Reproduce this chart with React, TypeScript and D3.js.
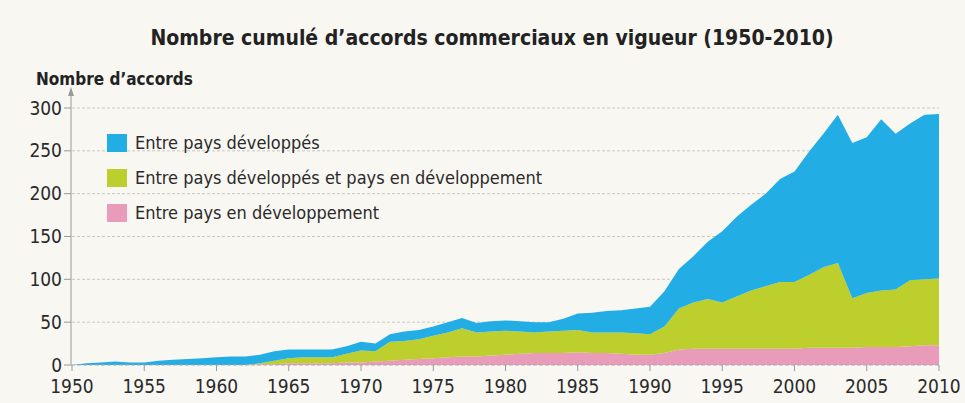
import { useEffect, useRef } from 'react';
import * as d3 from 'd3';

// Years 1950..2010
const years = d3.range(1950, 2011);

// Entre pays en développement (bottom layer)
const developing = [
  0, 0, 0, 0, 0, 0, 0, 0, 0, 0,
  0, 0, 0, 1, 1, 2, 2, 2, 2, 3,
  3, 4, 5, 6, 7, 8, 9, 10, 10, 11,
  12, 13, 14, 14, 14, 15, 14, 14, 13, 12,
  12, 14, 18, 19, 19, 19, 19, 19, 19, 19,
  19, 20, 20, 20, 20, 21, 21, 21, 22, 23,
  23,
];

// Entre pays développés et pays en développement (middle layer)
const mixed = [
  0, 0, 0, 0, 0, 0, 0, 0, 0, 0,
  0, 0, 0, 1, 4, 6, 7, 7, 7, 10,
  14, 12, 22, 22, 23, 26, 29, 33, 28, 28,
  28, 26, 24, 25, 26, 26, 24, 24, 25, 25,
  24, 31, 48, 54, 58, 54, 61, 68, 73, 78,
  78, 85, 94, 99, 58, 63, 66, 67, 77, 77,
  78,
];

// Entre pays développés (top layer)
const developed = [
  0, 2, 3, 4, 3, 3, 5, 6, 7, 8,
  9, 10, 10, 10, 11, 10, 9, 9, 9, 9,
  10, 9, 9, 11, 11, 11, 12, 12, 11, 12,
  12, 12, 12, 11, 14, 19, 23, 25, 26, 29,
  32, 41, 46, 54, 67, 83, 93, 100, 108, 120,
  129, 144, 156, 173, 181, 182, 200, 182, 183, 192,
  192,
];

const yTicks = [0, 50, 100, 150, 200, 250, 300];
const xTicks = [1950, 1955, 1960, 1965, 1970, 1975, 1980, 1985, 1990, 1995, 2000, 2005, 2010];

const seriesKeys = ['developing', 'mixed', 'developed'];
const seriesLabels: Record<string, string> = {
  developed: 'Entre pays développés',
  mixed: 'Entre pays développés et pays en développement',
  developing: 'Entre pays en développement',
};
const colors: Record<string, string> = {
  developed: '#22aee4',
  mixed: '#bccf2c',
  developing: '#e99bba',
};
const legendOrder = ['developed', 'mixed', 'developing'];

const FONT = '"DejaVu Sans Condensed", "Liberation Sans Narrow", "Roboto", sans-serif';

export default function App() {
  const svgRef = useRef<SVGSVGElement>(null);

  useEffect(() => {
    if (!svgRef.current) return;
    const width = 965;
    const height = 403;
    const svg = d3.select(svgRef.current);
    svg.selectAll('*').remove();

    svg.append('rect').attr('width', width).attr('height', height).attr('fill', '#f8f7f2');

    const x = d3.scaleLinear().domain([1950, 2010]).range([72, 939]);
    const y = d3.scaleLinear().domain([0, 300]).range([365, 108]);

    const rows = years.map((yr, i) => ({
      year: yr,
      developing: developing[i],
      mixed: mixed[i],
      developed: developed[i],
    }));

    // Gridlines
    svg.append('g')
      .selectAll('line')
      .data(yTicks.filter(t => t > 0))
      .join('line')
      .attr('x1', x(1950))
      .attr('x2', x(2010))
      .attr('y1', d => y(d))
      .attr('y2', d => y(d))
      .attr('stroke', '#c9c7c2')
      .attr('stroke-width', 1)
      .attr('stroke-dasharray', '3,2');

    // Stacked areas
    const stack = d3.stack<any>().keys(seriesKeys);
    const layers = stack(rows);
    const area = d3.area<any>()
      .x(d => x(d.data.year))
      .y0(d => y(d[0]))
      .y1(d => y(d[1]));

    svg.append('g')
      .selectAll('path')
      .data(layers)
      .join('path')
      .attr('d', d => area(d as any))
      .attr('fill', d => colors[d.key]);

    // Y axis line with arrow
    svg.append('line')
      .attr('x1', x(1950) - 1).attr('x2', x(1950) - 1)
      .attr('y1', y(0)).attr('y2', 90)
      .attr('stroke', '#9a9a9a').attr('stroke-width', 1);
    svg.append('path')
      .attr('d', `M${x(1950) - 4},${96} L${x(1950) - 1},${87} L${x(1950) + 2},${96} Z`)
      .attr('fill', '#9a9a9a');

    // X axis baseline
    svg.append('line')
      .attr('x1', x(1950) - 1).attr('x2', x(2010))
      .attr('y1', y(0)).attr('y2', y(0))
      .attr('stroke', '#a8a8a8').attr('stroke-width', 1)
      .attr('stroke-dasharray', '4,2');

    // Y ticks and labels
    const yg = svg.append('g').selectAll('g').data(yTicks).join('g');
    yg.append('line')
      .attr('x1', x(1950) - 8).attr('x2', x(1950) - 1)
      .attr('y1', d => y(d)).attr('y2', d => y(d))
      .attr('stroke', '#9a9a9a');
    yg.append('text')
      .attr('x', x(1950) - 10)
      .attr('y', d => y(d))
      .attr('dy', '0.35em')
      .attr('text-anchor', 'end')
      .attr('font-family', FONT)
      .attr('font-size', 19)
      .attr('fill', '#2a2a2a')
      .text(d => d);

    // X ticks and labels
    const xg = svg.append('g').selectAll('g').data(xTicks).join('g');
    xg.append('line')
      .attr('x1', d => x(d)).attr('x2', d => x(d))
      .attr('y1', y(0)).attr('y2', y(0) + 6)
      .attr('stroke', '#9a9a9a');
    xg.append('text')
      .attr('x', d => x(d))
      .attr('y', 393)
      .attr('text-anchor', 'middle')
      .attr('font-family', FONT)
      .attr('font-size', 19)
      .attr('fill', '#2a2a2a')
      .text(d => d);

    // Title
    svg.append('text')
      .attr('x', 492)
      .attr('y', 45)
      .attr('text-anchor', 'middle')
      .attr('font-family', FONT)
      .attr('font-size', 21)
      .attr('font-weight', 'bold')
      .attr('fill', '#222')
      .text('Nombre cumulé d’accords commerciaux en vigueur (1950-2010)');

    // Y axis title
    svg.append('text')
      .attr('x', 36)
      .attr('y', 85)
      .attr('font-family', FONT)
      .attr('font-size', 17)
      .attr('font-weight', 'bold')
      .attr('fill', '#222')
      .text('Nombre d’accords');

    // Legend
    const lg = svg.append('g').selectAll('g').data(legendOrder).join('g')
      .attr('transform', (_d, i) => `translate(107, ${134 + i * 35})`);
    lg.append('rect')
      .attr('width', 20).attr('height', 18)
      .attr('fill', d => colors[d]);
    lg.append('text')
      .attr('x', 28)
      .attr('y', 9)
      .attr('dy', '0.35em')
      .attr('font-family', FONT)
      .attr('font-size', 18)
      .attr('fill', '#2a2a2a')
      .text(d => seriesLabels[d]);
  }, []);

  return (
    <div style={{ position: 'absolute', left: 0, top: 0, width: 965, height: 403 }}>
      <svg ref={svgRef} width={965} height={403} />
    </div>
  );
}
